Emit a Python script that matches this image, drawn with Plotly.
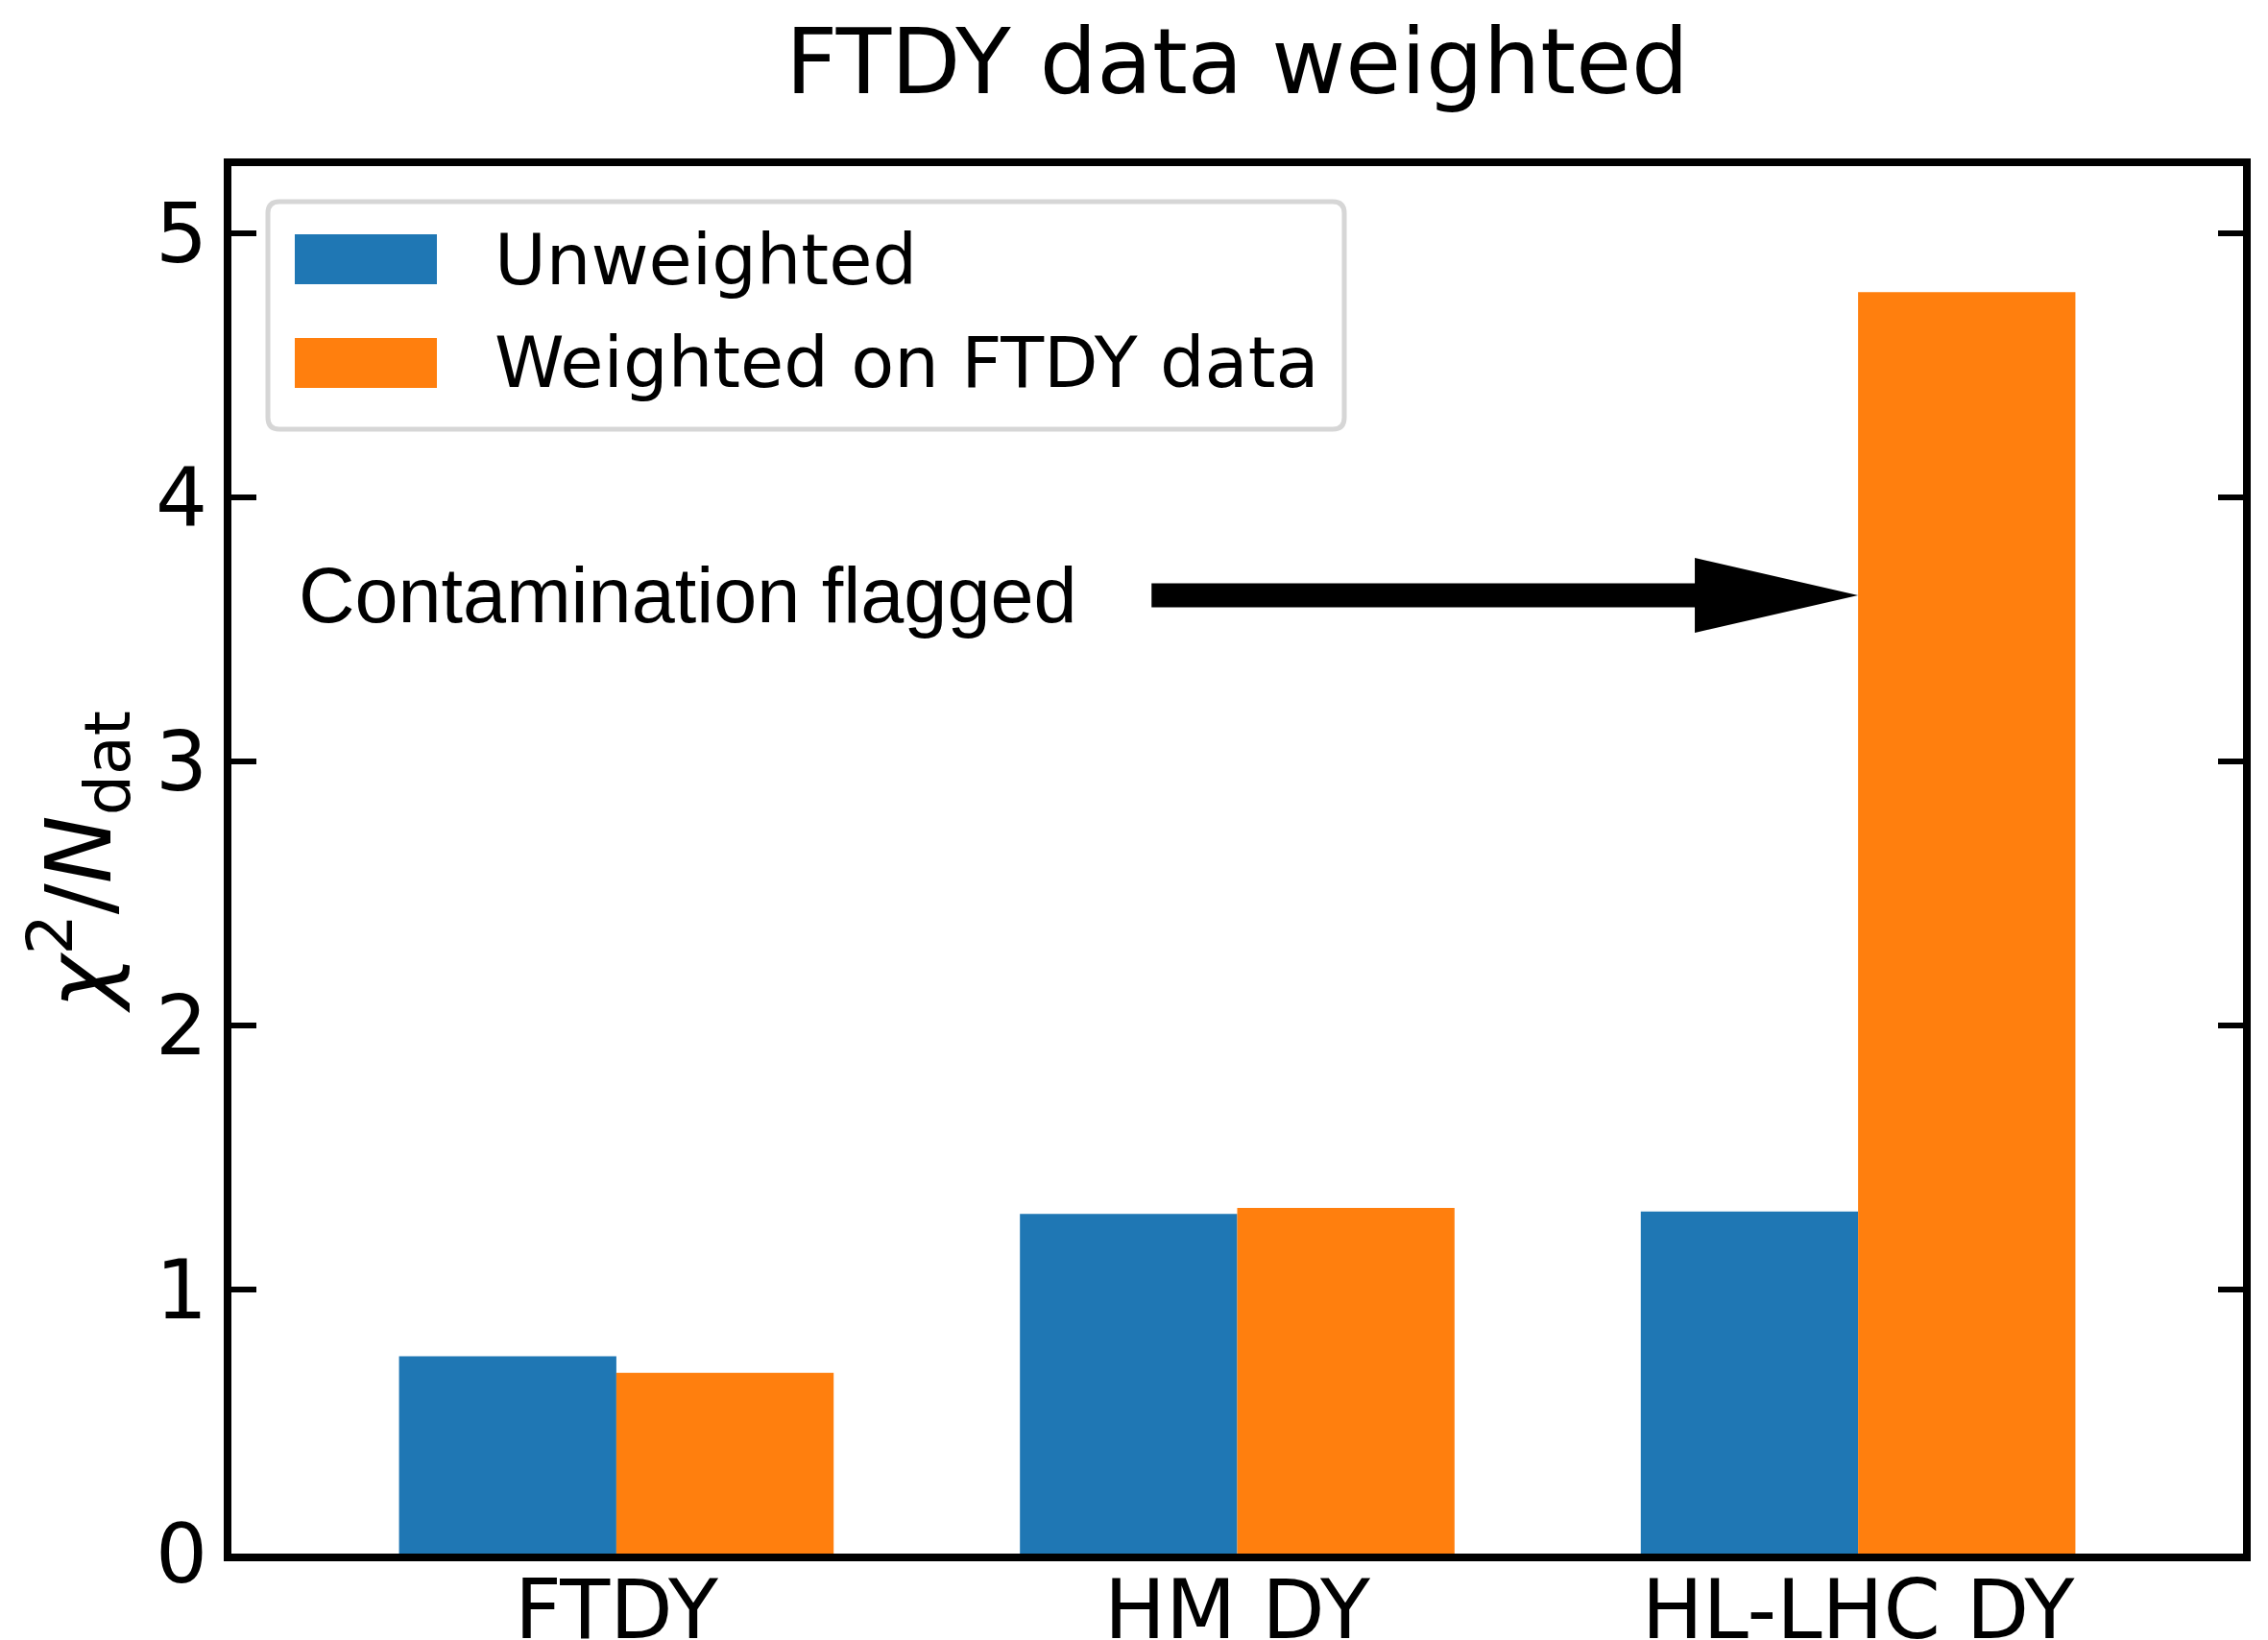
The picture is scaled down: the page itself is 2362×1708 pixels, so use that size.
import plotly.graph_objects as go

# ---------------- data ----------------
categories = ["FTDY", "HM DY", "HL-LHC DY"]
unweighted = [0.747, 1.287, 1.296]
weighted_ftdy = [0.685, 1.309, 4.778]
series_names = ["Unweighted", "Weighted on FTDY data"]
y_ticks = [0, 1, 2, 3, 4, 5]

# annotation (arrow) in data units
arrow_label = "Contamination flagged"
arrow_tip_y = 3.63
arrow_tip_cat = 2          # points to HL-LHC DY weighted bar
arrow_tail_x = 0.862
arrow_head_len = 0.263     # x units
label_x = -0.515

# ---------------- style ----------------
BLUE = "#1f77b4"
ORANGE = "#ff7f0e"
colors = [BLUE, ORANGE]
PAGE_W, PAGE_H = 2362, 1708
OFF = 8                     # default body margin of the html page
W, H = PAGE_W - OFF, PAGE_H - OFF
# plot-area edges in page pixels
L, R, T, B = 241, 2336, 173, 1618
BAR_W = 0.35
X_RANGE = [-0.62, 2.62]
Y_RANGE = [0, 1.1 * max(weighted_ftdy)]
TICK_FONT = dict(family="DejaVu Sans", size=85, color="black")


def py_to_paper(py):
    return (B - py) / (B - T)


def px_to_paper(px):
    return (px - L) / (R - L)


yunit_px = (B - T) / (Y_RANGE[1] - Y_RANGE[0])

positions = list(range(len(categories)))

fig = go.Figure()
for i, (name, vals) in enumerate(zip(series_names, [unweighted, weighted_ftdy])):
    fig.add_trace(go.Bar(
        x=positions, y=vals, name=name, width=BAR_W,
        offset=-BAR_W if i == 0 else 0,
        marker=dict(color=colors[i], line=dict(width=0)),
        showlegend=False,
    ))

# ---- arrow (shaft + long head) drawn as a path in data coordinates ----
shaft_half = 12.4 / yunit_px
head_half = 39.0 / yunit_px
tip_x = arrow_tip_cat
base_x = tip_x - arrow_head_len
yy = arrow_tip_y
path = (f"M{arrow_tail_x},{yy - shaft_half} L{base_x},{yy - shaft_half} "
        f"L{base_x},{yy - head_half} L{tip_x},{yy} L{base_x},{yy + head_half} "
        f"L{base_x},{yy + shaft_half} L{arrow_tail_x},{yy + shaft_half} Z")
fig.add_shape(type="path", path=path, xref="x", yref="y",
              fillcolor="black", line=dict(width=0), layer="above")

fig.add_annotation(x=label_x, y=arrow_tip_y, xref="x", yref="y",
                   text=arrow_label, showarrow=False, xanchor="left",
                   yanchor="middle",
                   font=dict(family="Liberation Sans", size=81, color="black"))

# ---- custom legend (matplotlib-like) ----
lg_x0, lg_x1, lg_y0, lg_y1 = 279, 1400, 210, 447
rx = 12 / (R - L)
ry = 12 / (B - T)
x0, x1 = px_to_paper(lg_x0), px_to_paper(lg_x1)
y0, y1 = py_to_paper(lg_y0), py_to_paper(lg_y1)
legend_path = (f"M{x0 + rx},{y0} L{x1 - rx},{y0} Q{x1},{y0} {x1},{y0 - ry} "
               f"L{x1},{y1 + ry} Q{x1},{y1} {x1 - rx},{y1} L{x0 + rx},{y1} "
               f"Q{x0},{y1} {x0},{y1 + ry} L{x0},{y0 - ry} Q{x0},{y0} {x0 + rx},{y0} Z")
fig.add_shape(type="path", path=legend_path, xref="paper", yref="paper",
              fillcolor="white", line=dict(color="#d6d6d6", width=5), layer="above")

row_centers = [270, 378]
for name, col, yc in zip(series_names, colors, row_centers):
    fig.add_shape(type="rect", xref="paper", yref="paper",
                  x0=px_to_paper(307), x1=px_to_paper(455),
                  y0=py_to_paper(yc + 26), y1=py_to_paper(yc - 26),
                  fillcolor=col, line=dict(width=0), layer="above")
    fig.add_annotation(x=px_to_paper(513), y=py_to_paper(yc), xref="paper", yref="paper",
                       text=name, showarrow=False, xanchor="left", yanchor="middle",
                       font=dict(family="DejaVu Sans", size=73.5, color="black"))

fig.update_layout(
    width=W, height=H,
    margin=dict(l=L - OFF, r=PAGE_W - R, t=T - OFF, b=PAGE_H - B, pad=0),
    paper_bgcolor="white", plot_bgcolor="white",
    barmode="overlay",
    title=dict(text="FTDY data weighted", x=0.5, xref="paper", xanchor="center",
               y=1 - (64 - OFF) / H, yref="container", yanchor="middle",
               font=dict(family="DejaVu Sans", size=94, color="black")),
    font=dict(family="DejaVu Sans", color="black"),
)

fig.update_xaxes(
    range=X_RANGE, tickvals=positions, ticktext=categories,
    showgrid=False, zeroline=False, showline=True, linecolor="black",
    linewidth=8, mirror=True, ticks="", tickfont=TICK_FONT,
    automargin=False, ticklabelstandoff=-22,
)
fig.update_yaxes(
    range=Y_RANGE, tickvals=y_ticks, ticktext=[str(v) for v in y_ticks],
    showgrid=False, zeroline=False, showline=True, linecolor="black",
    linewidth=8, mirror="ticks", ticks="inside", ticklen=26, tickwidth=6,
    tickcolor="black", tickfont=TICK_FONT, automargin=False,
    title=dict(text="<i>χ</i><sup>2</sup>/<i>N</i><sub>dat</sub>",
               font=dict(family="DejaVu Sans", size=95, color="black"),
               standoff=18),
)

fig.write_html("out.html")
